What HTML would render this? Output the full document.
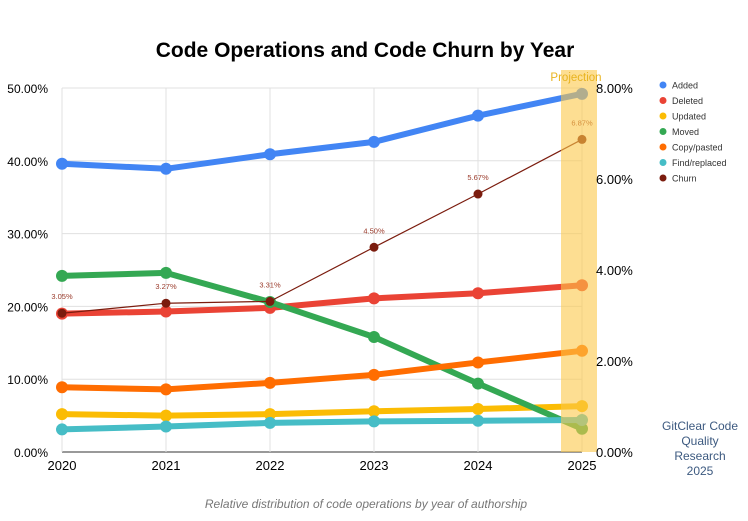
<!DOCTYPE html>
<html><head><meta charset="utf-8"><style>
body{margin:0;background:#fff;width:748px;height:516px;overflow:hidden}
svg text{font-family:"Liberation Sans",Arial,sans-serif}
</style></head><body>
<svg id="chart" width="748" height="516" viewBox="0 0 748 516" xmlns="http://www.w3.org/2000/svg">
<rect width="748" height="516" fill="#fff"/>
<text x="365" y="57" text-anchor="middle" font-size="21" font-weight="bold" fill="#000">Code Operations and Code Churn by Year</text>
<g id="grid"></g><g id="series"></g><g id="band"></g><g id="axes"></g><g id="legend"></g>
<text text-anchor="middle" font-size="12" fill="#3d5a80"><tspan x="700" y="430">GitClear Code</tspan><tspan x="700" y="445">Quality</tspan><tspan x="700" y="460">Research</tspan><tspan x="700" y="475">2025</tspan></text>
<text x="366" y="508" text-anchor="middle" font-size="12" font-style="italic" fill="#777">Relative distribution of code operations by year of authorship</text>
</svg>
<script>
const years=["2020","2021","2022","2023","2024","2025"];
const added=[39.6,38.9,40.9,42.6,46.2,49.2];
const deleted=[19.0,19.3,19.8,21.1,21.8,22.9];
const updated=[5.2,5.0,5.2,5.6,5.9,6.3];
const moved=[24.2,24.6,20.6,15.8,9.4,3.2];
const copyPasted=[8.9,8.6,9.5,10.6,12.3,13.9];
const findReplaced=[3.1,3.5,4.0,4.2,4.3,4.4];
const churn=[3.05,3.27,3.31,4.50,5.67,6.87];
const leftTicks=[0,10,20,30,40,50];
const rightTicks=[0,2,4,6,8];
const NS="http://www.w3.org/2000/svg";
const x=i=>62+i*104;
const yL=v=>452-v/50*364;
const yR=v=>452-v/8*364;
function mk(p,t,a){const e=document.createElementNS(NS,t);for(const k in a)e.setAttribute(k,a[k]);p.appendChild(e);return e;}
const grid=document.getElementById('grid'),axes=document.getElementById('axes'),ser=document.getElementById('series'),band=document.getElementById('band'),leg=document.getElementById('legend');
leftTicks.forEach(v=>{
 const l=mk(grid,'line',{x1:62,x2:582,y1:yL(v),y2:yL(v),stroke:v==0?'#333':'#e0e0e0','stroke-width':1});
 
 
 const t=mk(axes,'text',{x:48,y:yL(v)+5,'text-anchor':'end','font-size':12,fill:'#000'});t.textContent=v.toFixed(2)+'%';
 
 
});
rightTicks.forEach(v=>{
 const t=mk(axes,'text',{x:596,y:yR(v)+5,'font-size':13,fill:'#000'});t.textContent=v.toFixed(2)+'%';
 
 
});
years.forEach((yr,i)=>{
 const l=mk(grid,'line',{x1:x(i),x2:x(i),y1:88,y2:452,stroke:'#e0e0e0'});
 
 
 const t=mk(axes,'text',{x:x(i),y:470,'text-anchor':'middle','font-size':13,fill:'#000'});t.textContent=yr;
 
 
});
const series=[
 ["Added",added,"#4285f4",yL,6,6],
 ["Deleted",deleted,"#ea4335",yL,6,6],
 ["Updated",updated,"#fbbc04",yL,6,6],
 ["Moved",moved,"#34a853",yL,6,6],
 ["Copy/pasted",copyPasted,"#ff6d01",yL,6,6],
 ["Find/replaced",findReplaced,"#46bdc6",yL,6,6],
 ["Churn",churn,"#7b1c0e",yR,1.2,4.5]
];
series.forEach(([name,vals,col,ys,w,r],si)=>{
 const g=mk(ser,'g',{});
 
 
 const pl=mk(g,'polyline',{points:vals.map((v,i)=>x(i)+','+ys(v)).join(' '),fill:'none',stroke:col,'stroke-width':w,'stroke-linejoin':'round'});
 
 
 vals.forEach((v,i)=>{
  const c=mk(g,'circle',{cx:x(i),cy:ys(v),r:r,fill:col});
  
  
  if(name==="Churn"){
   const t=mk(g,'text',{x:x(i),y:ys(v)-14,'text-anchor':'middle','font-size':7.5,fill:'#9a3a2a'});t.textContent=v.toFixed(2)+'%';
   
   
  }
 });
 const ly=85+si*15.5;
 const lc=mk(leg,'circle',{cx:663,cy:ly,r:3.5,fill:col});
 
 
 const lt=mk(leg,'text',{x:672,y:ly+3.5,'font-size':9,fill:'#333'});lt.textContent=name;
 
 
});
const b=mk(band,'rect',{x:561,y:70,width:36,height:382,fill:'#fcc84a','fill-opacity':0.6});


const bt=mk(band,'text',{x:576,y:81,'text-anchor':'middle','font-size':11.5,fill:'#e8b320'});bt.textContent='Projection';


</script>
</body></html>
